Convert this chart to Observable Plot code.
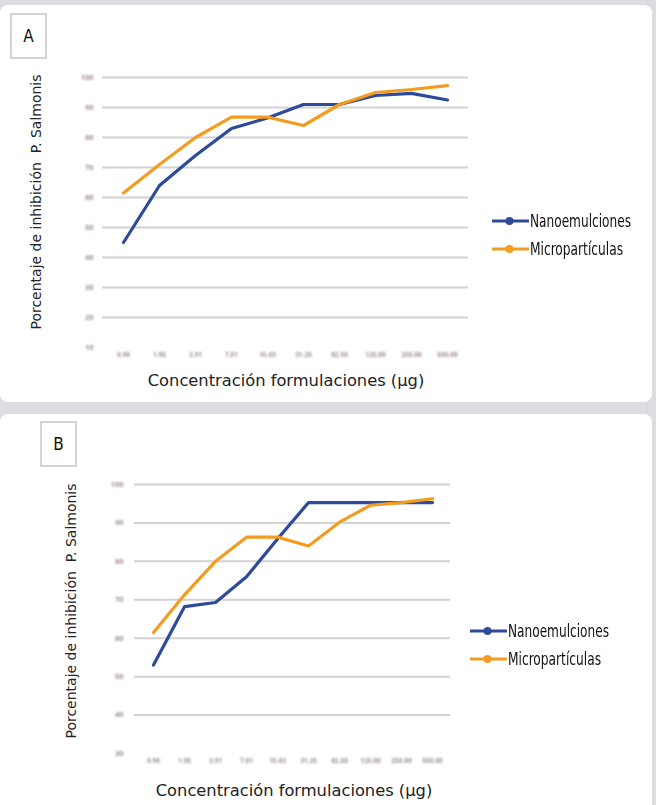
<!DOCTYPE html>
<html><head><meta charset="utf-8">
<script src="https://cdn.jsdelivr.net/npm/d3@7"></script>
<script src="https://cdn.jsdelivr.net/npm/@observablehq/plot@0.6"></script>
<style>
body{margin:0;background:#dcdde1;width:656px;height:805px;position:relative;overflow:hidden;font-family:"DejaVu Sans",sans-serif}
.panel{position:absolute;left:0;width:652px;background:#fff;border-radius:8px}
.chart{position:absolute;left:0}
.tag{position:absolute;border:2px solid #d3d3d3;box-sizing:border-box;font-family:"Liberation Sans Narrow","DejaVu Sans Condensed",sans-serif;font-size:17px;display:flex;align-items:center;justify-content:center;color:#111}
.ytitle{position:absolute;transform:translate(-50%,-50%) rotate(-90deg);white-space:nowrap;font-size:14px;color:#222}
.xtitle{position:absolute;transform:translate(-50%,-50%);white-space:nowrap;font-size:16.3px;color:#222}
.legend{position:absolute;font-family:"Liberation Sans Narrow","DejaVu Sans Condensed",sans-serif;font-size:17.5px;color:#111;white-space:nowrap}
.legend div{display:flex;align-items:center;height:28px}
.legend span{display:inline-block;transform-origin:0 50%}
</style>
</head><body>
<div class="panel" style="top:5px;height:397px"></div>
<div class="panel" style="top:414px;height:400px"></div>
<div class="tag" style="left:10px;top:13px;width:37px;height:46px">A</div>
<div class="tag" style="left:40px;top:421px;width:37px;height:46px">B</div>
<div id="cA"></div>
<div id="cB"></div>
<div class="ytitle" style="left:36px;top:202px">Porcentaje de inhibición&nbsp; P. Salmonis</div>
<div class="ytitle" style="left:71px;top:611px">Porcentaje de inhibición&nbsp; P. Salmonis</div>
<div class="xtitle" style="left:286px;top:380px">Concentración formulaciones (µg)</div>
<div class="xtitle" style="left:294px;top:790px">Concentración formulaciones (µg)</div>
<div class="legend" id="legA" style="left:492px;top:207px"></div>
<div class="legend" id="legB" style="left:470px;top:617px"></div>
<script>
const categories = ["0.98","1.95","3.91","7.81","15.63","31.25","62.50","125.00","250.00","500.00"];
const series = ["Nanoemulciones","Micropartículas"];
const colors = ["#2e4a9b","#f39c22"];
const nanoA  = [45, 64, 74, 83, 86.5, 91, 91, 94, 94.7, 92.5];
const microA = [61.5, 71, 80, 86.8, 86.8, 84, 91, 95, 96, 97.3];
const nanoB  = [53, 68.2, 69.3, 76, 85.8, 95.3, 95.3, 95.3, 95.3, 95.3];
const microB = [61.5, 71.3, 80, 86.3, 86.3, 84, 90.2, 94.6, 95.3, 96.3];
const yTicksA = [10, 20, 30, 40, 50, 60, 70, 80, 90, 100];
const yTicksB = [30, 40, 50, 60, 70, 80, 90, 100];

function chart(nano, micro, yTicks, o) {
  const data = [];
  categories.forEach((c, i) => data.push({c, v: nano[i], s: series[0]}));
  categories.forEach((c, i) => data.push({c, v: micro[i], s: series[1]}));
  const svg = Plot.plot({
    width: 652, height: o.height,
    marginLeft: o.ml, marginRight: o.mr, marginTop: o.mt, marginBottom: o.mb,
    x: {type: "point", domain: categories, padding: 0.5, axis: null},
    y: {domain: [yTicks[0], 100], axis: null},
    color: {domain: series, range: colors},
    style: {background: "transparent", color: "#a08e8e"},
    marks: [
      Plot.ruleY(yTicks.slice(1), {stroke: "#d2d2d2", strokeWidth: 2}),
      Plot.axisY(yTicks, {tickSize: 0, tickPadding: o.tp, fontSize: 7.5, fontWeight: "bold", label: null}),
      Plot.axisX(categories, {tickSize: 0, tickPadding: 5, fontSize: 6.5, fontWeight: "bold", label: null}),
      Plot.line(data, {x: "c", y: "v", z: "s", stroke: "s", strokeWidth: 3.2, curve: "linear"})
    ]
  });
  svg.classList.add("chart");
  svg.style.top = o.top + "px";
  const ns = "http://www.w3.org/2000/svg";
  const defs = document.createElementNS(ns, "defs");
  const f = document.createElementNS(ns, "filter");
  f.setAttribute("id", "blur" + o.id);
  f.setAttribute("x", "-50%"); f.setAttribute("y", "-50%");
  f.setAttribute("width", "200%"); f.setAttribute("height", "200%");
  const g = document.createElementNS(ns, "feGaussianBlur");
  g.setAttribute("stdDeviation", "0.8");
  f.appendChild(g); defs.appendChild(f); svg.insertBefore(defs, svg.firstChild);
  svg.querySelectorAll('g[aria-label="y-axis tick label"], g[aria-label="x-axis tick label"]')
    .forEach(el => el.setAttribute("filter", `url(#blur${o.id})`));
  return svg;
}
document.getElementById("cA").appendChild(chart(nanoA, microA, yTicksA, {id: "A", height: 402, top: 0, ml: 102, mr: 184, mt: 77, mb: 55, tp: 9}));
document.getElementById("cB").appendChild(chart(nanoB, microB, yTicksB, {id: "B", height: 400, top: 405, ml: 134, mr: 202, mt: 79, mb: 52, tp: 11}));

const legendWidths = [101, 93];
function legend(el) {
  series.forEach((s, i) => {
    const row = document.createElement("div");
    row.innerHTML = `<svg width="37" height="10" style="margin-right:1px"><line x1="0" x2="37" y1="5" y2="5" stroke="${colors[i]}" stroke-width="3.2"/><circle cx="17.5" cy="5" r="4" fill="${colors[i]}"/></svg><span>${s}</span>`;
    el.appendChild(row);
    const sp = row.querySelector("span");
    const w = sp.getBoundingClientRect().width;
    if (w > 0) sp.style.transform = `scaleX(${legendWidths[i] / w})`;
  });
}
legend(document.getElementById("legA"));
legend(document.getElementById("legB"));
</script>
</body></html>
